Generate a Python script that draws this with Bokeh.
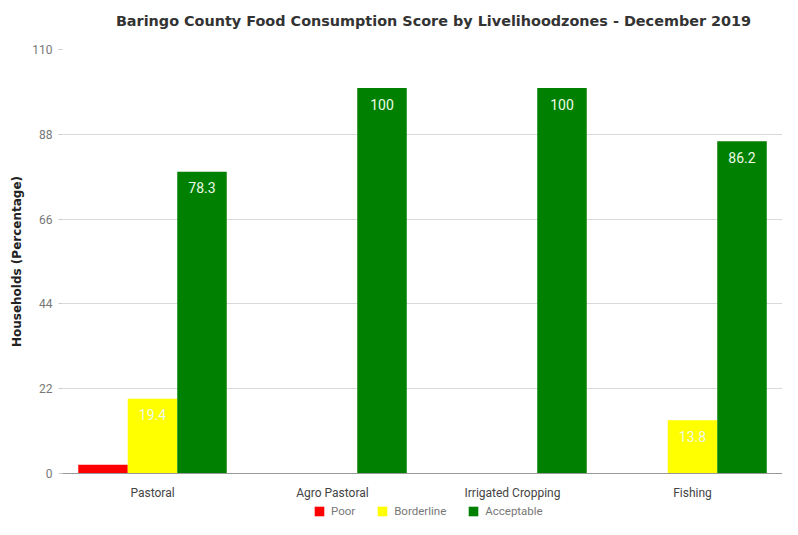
from bokeh.plotting import figure
from bokeh.layouts import column
from bokeh.models import ColumnDataSource, FactorRange, Range1d, Legend, LegendItem, FixedTicker, Label
from bokeh.transform import dodge
from bokeh.embed import file_html
from bokeh.resources import INLINE
from bokeh.core.properties import value

categories = ["Pastoral", "Agro Pastoral", "Irrigated Cropping", "Fishing"]
poor = [2.3, 0, 0, 0]
borderline = [19.4, 0, 0, 13.8]
acceptable = [78.3, 100, 100, 86.2]
y_ticks = [0, 22, 44, 66, 88, 110]
series_names = ["Poor", "Borderline", "Acceptable"]
series_colors = ["#ff0000", "#ffff00", "#008000"]
title_text = "Baringo County Food Consumption Score by Livelihoodzones - December 2019"

W_PX = 782
LEFT = 62

def blank(h):
    # strip whose frame spans page x LEFT..W_PX (column aligns frames with main chart)
    f = figure(width=W_PX, height=h, x_range=Range1d(LEFT, W_PX), y_range=Range1d(0, h),
               output_backend="svg", toolbar_location=None,
               min_border_left=LEFT, min_border_right=0,
               min_border_top=0, min_border_bottom=0)
    f.axis.visible = False
    f.grid.visible = False
    f.outline_line_color = None
    return f

# ---- title strip
top = blank(41)
top.add_layout(Label(x=433, y=21, text=title_text, text_align="center", text_baseline="middle",
                     text_font="DejaVu Sans", text_font_style="bold",
                     text_font_size="14.4px", text_color="#333333"))

# ---- main chart
fmt = lambda v: ("%g" % v) if v > 5 else ""
src = ColumnDataSource(dict(
    cat=categories, poor=poor, borderline=borderline, acceptable=acceptable,
    b_lab=[fmt(v) for v in borderline], a_lab=[fmt(v) for v in acceptable],
))

p = figure(width=W_PX, height=464, x_range=FactorRange(factors=categories),
           y_range=Range1d(0, 110), output_backend="svg", toolbar_location=None,
           min_border_left=LEFT, min_border_right=0, min_border_top=8, min_border_bottom=32)
p.outline_line_color = None

W = 0.275
for col, off, colr in zip(["poor", "borderline", "acceptable"], [-W, 0, W], series_colors):
    p.vbar(x=dodge("cat", off, range=p.x_range), top=col, width=W, source=src,
           fill_color=colr, line_color=None)

for col, off, lab in [("borderline", 0, "b_lab"), ("acceptable", W, "a_lab")]:
    p.text(x=dodge("cat", off, range=p.x_range), y=col, text=lab, source=src,
           text_align="center", text_baseline="middle", y_offset=16,
           text_color="#eefbe9", text_font_size="14px", text_font=value("Roboto"))

p.yaxis.ticker = FixedTicker(ticks=y_ticks)
p.yaxis.axis_line_color = None
p.yaxis.major_tick_out = 4
p.yaxis.major_tick_in = 0
p.yaxis.major_tick_line_color = "#cccccc"
p.yaxis.minor_tick_line_color = None
p.yaxis.major_label_standoff = 6
p.yaxis.major_label_text_color = "#777777"
p.yaxis.major_label_text_font = "Roboto"
p.yaxis.major_label_text_font_size = "12px"
p.yaxis.axis_label = "Households (Percentage)"
p.yaxis.axis_label_text_font = "DejaVu Sans"
p.yaxis.axis_label_text_font_style = "bold"
p.yaxis.axis_label_text_font_size = "12px"
p.yaxis.axis_label_text_color = "#222222"
p.yaxis.axis_label_standoff = 5

p.xaxis.axis_line_color = "#999999"
p.xaxis.major_tick_line_color = None
p.xaxis.minor_tick_line_color = None
p.xaxis.major_label_standoff = 6
p.xaxis.major_label_text_color = "#444444"
p.xaxis.major_label_text_font = "Roboto"
p.xaxis.major_label_text_font_size = "12px"

p.xgrid.grid_line_color = None
p.ygrid.grid_line_color = "#d9d9d9"

# ---- legend strip (hidden swatch glyphs placed off-screen, used only for legend icons)
leg = blank(14)
items = []
for name, colr in zip(series_names, series_colors):
    r = leg.vbar(x=[-1000], top=[0], width=1, fill_color=colr, line_color=None)
    items.append(LegendItem(label=name, renderers=[r]))
legend = Legend(items=items, orientation="horizontal", location=(313 - LEFT, 1),
                glyph_width=12, glyph_height=12, label_text_font_size="11.5px",
                label_text_font="Roboto", label_text_color="#777777",
                label_height=12, spacing=21, padding=0, margin=0, border_line_color=None,
                background_fill_alpha=0, label_standoff=6)
leg.add_layout(legend)

page = column(top, p, leg, spacing=0)
open("out.html", "w").write(file_html(page, INLINE))
